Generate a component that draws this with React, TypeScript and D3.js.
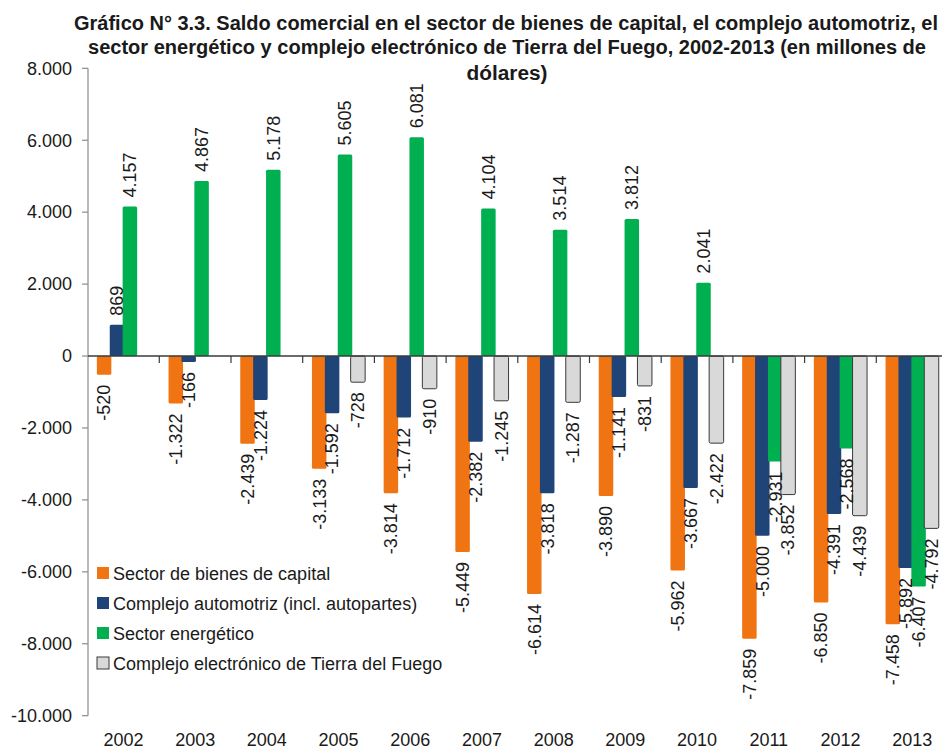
import React, { useEffect, useRef } from 'react';
import * as d3 from 'd3';

// años
const years = ['2002', '2003', '2004', '2005', '2006', '2007', '2008', '2009', '2010', '2011', '2012', '2013'];

// saldo comercial (millones de dólares)
const bienesCapital = [-520, -1322, -2439, -3133, -3814, -5449, -6614, -3890, -5962, -7859, -6850, -7458];
const automotriz = [869, -166, -1224, -1592, -1712, -2382, -3818, -1141, -3667, -5000, -4391, -5892];
const energetico = [4157, 4867, 5178, 5605, 6081, 4104, 3514, 3812, 2041, -2931, -2568, -6407];
const electronico: (number | null)[] = [null, null, null, -728, -910, -1245, -1287, -831, -2422, -3852, -4439, -4792];

const seriesNames = [
  'Sector de bienes de capital',
  'Complejo automotriz (incl. autopartes)',
  'Sector energético',
  'Complejo electrónico de Tierra del Fuego',
];
const seriesColors = ['#F07412', '#1F4478', '#00B050', '#D9D9D9'];

const yTicks = [8000, 6000, 4000, 2000, 0, -2000, -4000, -6000, -8000, -10000];

const titleLines = [
  'Gráfico N° 3.3. Saldo comercial en el sector de bienes de capital, el complejo automotriz, el',
  'sector energético y  complejo electrónico de Tierra del Fuego, 2002-2013 (en millones de',
  'dólares)',
];

const FONT = "'Liberation Sans', Arial, sans-serif";

export default function App() {
  const ref = useRef<SVGSVGElement | null>(null);

  useEffect(() => {
    if (!ref.current) return;
    const svg = d3.select(ref.current);
    svg.selectAll('*').remove();

    const width = 942;
    const height = 751;
    const locale = d3.formatLocale({ decimal: ',', thousands: '.', grouping: [3], currency: ['$', ''], minus: '-' });
    const fmt = locale.format(',d');

    // escalas
    const x = d3.scaleBand<string>().domain(years).range([87.6, 87.6 + 71.7 * 12]).padding(0);
    const sub = d3.scalePoint<string>().domain(seriesNames).range([16.5, 55.2]);
    const y = d3.scaleLinear().domain([-10000, 8000]).range([715.7, 68.3]);
    const barW = 14.5;

    const allSeries = [bienesCapital, automotriz, energetico, electronico];

    // título
    const title = svg.append('g');
    const titleX = [506, 507, 507];
    const titleY = [30, 54, 80];
    const titleLen = [864, 838, 81];
    titleLines.forEach((t, i) => {
      title.append('text')
        .attr('x', titleX[i])
        .attr('y', titleY[i])
        .attr('text-anchor', 'middle')
        .attr('textLength', titleLen[i])
        .attr('lengthAdjust', 'spacingAndGlyphs')
        .style('font-family', "'Liberation Sans Narrow', 'Arial Narrow', 'Liberation Sans', Arial, sans-serif")
        .style('font-weight', 'bold')
        .style('font-size', '20px')
        .style('fill', '#1a1a1a')
        .text(t);
    });

    // eje Y
    svg.append('line')
      .attr('x1', 88).attr('x2', 88)
      .attr('y1', y(8000)).attr('y2', y(-10000))
      .style('stroke', '#8c8c8c').style('stroke-width', 1.2);

    const yt = svg.append('g');
    yTicks.forEach(v => {
      yt.append('line')
        .attr('x1', 82).attr('x2', 88)
        .attr('y1', y(v)).attr('y2', y(v))
        .style('stroke', '#8c8c8c').style('stroke-width', 1.2);
      yt.append('text')
        .attr('x', 72)
        .attr('y', y(v))
        .attr('dy', '0.35em')
        .attr('text-anchor', 'end')
        .style('font-family', FONT)
        .style('font-size', '18px')
        .style('fill', '#1a1a1a')
        .text(fmt(v));
    });

    // barras
    allSeries.forEach((vals, si) => {
      const g = svg.append('g');
      years.forEach((yr, i) => {
        const v = vals[i];
        if (v === null || v === undefined) return;
        const cx = (x(yr) as number) + (sub(seriesNames[si]) as number);
        g.append('rect')
          .attr('x', cx - barW / 2)
          .attr('y', Math.min(y(v), y(0)))
          .attr('width', barW)
          .attr('height', Math.abs(y(v) - y(0)))
          .attr('rx', 1.5)
          .style('fill', seriesColors[si])
          .style('stroke', si === 3 ? '#3a3a3a' : 'none')
          .style('stroke-width', si === 3 ? 1 : 0);
      });
    });

    // línea de cero y marcas de categoría
    svg.append('line')
      .attr('x1', 88).attr('x2', width)
      .attr('y1', y(0)).attr('y2', y(0))
      .style('stroke', '#3a3a3a').style('stroke-width', 1.5);
    years.forEach(yr => {
      const bx = (x(yr) as number) + x.bandwidth();
      svg.append('line')
        .attr('x1', bx).attr('x2', bx)
        .attr('y1', y(0)).attr('y2', y(0) + 7)
        .style('stroke', '#3a3a3a').style('stroke-width', 1.2);
    });

    // etiquetas de datos
    allSeries.forEach((vals, si) => {
      years.forEach((yr, i) => {
        const v = vals[i];
        if (v === null || v === undefined) return;
        const cx = (x(yr) as number) + (sub(seriesNames[si]) as number);
        const ly = v >= 0 ? y(v) - 9 : y(v) + 10;
        svg.append('text')
          .attr('transform', `translate(${cx},${ly}) rotate(-90)`)
          .attr('dy', '0.35em')
          .attr('text-anchor', v >= 0 ? 'start' : 'end')
          .style('font-family', FONT)
          .style('font-size', '18px')
          .style('fill', '#1a1a1a')
          .text(fmt(v));
      });
    });

    // etiquetas de años
    years.forEach(yr => {
      svg.append('text')
        .attr('x', (x(yr) as number) + x.bandwidth() / 2)
        .attr('y', 746)
        .attr('text-anchor', 'middle')
        .style('font-family', FONT)
        .style('font-size', '18px')
        .style('fill', '#1a1a1a')
        .text(yr);
    });

    // leyenda
    const legend = svg.append('g').attr('transform', 'translate(97, 567)');
    seriesNames.forEach((name, i) => {
      const item = legend.append('g').attr('transform', `translate(0, ${i * 30})`);
      item.append('rect')
        .attr('width', 12).attr('height', 12)
        .style('fill', seriesColors[i])
        .style('stroke', i === 3 ? '#3a3a3a' : 'none')
        .style('stroke-width', 1);
      item.append('text')
        .attr('x', 16)
        .attr('y', 13)
        .style('font-family', FONT)
        .style('font-size', '18px')
        .style('fill', '#1a1a1a')
        .text(name);
    });
  }, []);

  return (
    <svg
      ref={ref}
      width={942}
      height={751}
      style={{ position: 'absolute', left: 0, top: 0, background: '#fff', display: 'block' }}
    />
  );
}
